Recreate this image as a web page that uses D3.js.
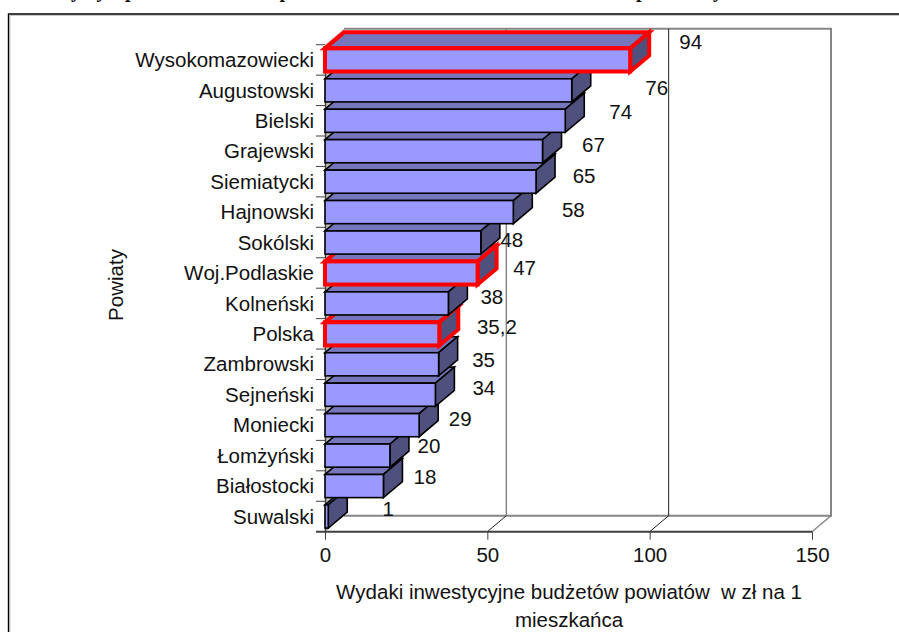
<!DOCTYPE html>
<html>

<head>
    <title>Wydatki inwestycyjne powiatów</title>
    <script src='https://cdn.jsdelivr.net/npm/d3@7'></script>
    <style type='text/css'>
        html,
        body {
            margin: 0;
            padding: 0;
            overflow: hidden;
            background: #fff;
        }

        svg {
            display: block;
        }

        text {
            font-family: 'Liberation Sans', Arial, sans-serif;
            font-size: 20.5px;
            font-kerning: none;
            fill: #111;
        }

        .title-bit {
            font-family: 'Liberation Serif', serif;
            font-weight: bold;
            font-size: 20px;
        }
    </style>
</head>

<body>
    <script>
        // Values, top bar first:
        const powiaty = ['Wysokomazowiecki', 'Augustowski', 'Bielski', 'Grajewski', 'Siemiatycki', 'Hajnowski',
            'Sokólski', 'Woj.Podlaskie', 'Kolneński', 'Polska', 'Zambrowski', 'Sejneński', 'Moniecki',
            'Łomżyński', 'Białostocki', 'Suwalski'];
        const wydatki = [94, 76, 74, 67, 65, 58, 48, 47, 38, 35.2, 35, 34, 29, 20, 18, 1];
        const wartosci = ['94', '76', '74', '67', '65', '58', '48', '47', '38', '35,2', '35', '34', '29', '20', '18', '1'];
        const wyroznione = ['Wysokomazowiecki', 'Woj.Podlaskie', 'Polska'];
        const xTicks = [0, 50, 100, 150];

        // The value labels were dragged by hand in the original, so each has its own nudge from the bar end:
        const labelDx = [60.5, 85, 55.5, 51, 48, 60, 31, 47, 43.5, 57.6, 45, 48.5, 41, 39, 41.5, 60];
        const labelDy = [-18, -3, -9, -7, -6, -3, -3.5, -5, -7, -7, -5, -7, -7, -10, -10, -7.5];

        // Bits of the cut off title, only the descenders are on the page:
        const titleBits = [['y', 76], ['y', 101.5], ['p', 130.5], ['p', 285], ['p', 641.5], ['y', 718]];

        const svg = d3.select('body').append('svg').attr('width', 899).attr('height', 632);

        // page frame (only top and left are inside the picture):
        svg.append('path').attr('d', 'M10,632V15.5H899').attr('fill', 'none').attr('stroke', '#c8c8c8').attr('stroke-width', 1);
        svg.append('path').attr('d', 'M8.5,632V14H899').attr('fill', 'none').attr('stroke', '#000').attr('stroke-width', 1.4);

        svg.append('g').selectAll('text')
            .data(titleBits)
            .join('text')
            .attr('class', 'title-bit')
            .attr('text-anchor', 'middle')
            .attr('x', d => d[1])
            .attr('y', -2.6)
            .text(d => d[0]);

        // scales:
        const x = d3.scaleLinear().domain([0, 150]).range([325, 812]);
        const y = d3.scaleBand().domain(powiaty).range([44.7, 531.7]).paddingInner(0.24).paddingOuter(0.12);
        const depthX = 19, depthY = -16;
        const top0 = y.range()[0], bottom0 = y.range()[1];

        // walls:
        const wallColor = '#868686';
        svg.append('path')
            .attr('d', `M${x(0)},${top0}L${x(0) + depthX},${top0 + depthY}V${bottom0 + depthY}L${x(0)},${bottom0}Z`)
            .attr('fill', '#bdbdbd');
        svg.append('path')
            .attr('d', `M${x(0) + depthX},${top0 + depthY}H${x(150) + depthX}V${bottom0 + depthY}H${x(0) + depthX}`)
            .attr('fill', '#fff')
            .attr('stroke', wallColor)
            .attr('stroke-width', 2);

        // gridlines on back wall and floor, 50 is gray and 100 is black in the original:
        const grid = svg.append('g').attr('fill', 'none');
        grid.append('path')
            .attr('d', `M${x(50) + depthX},${top0 + depthY}V${bottom0 + depthY}`)
            .attr('stroke', wallColor).attr('stroke-width', 1.5);
        grid.append('path')
            .attr('d', `M${x(100) + depthX},${top0 + depthY}V${bottom0 + depthY}`)
            .attr('stroke', '#222').attr('stroke-width', 1);
        grid.selectAll('.floor')
            .data([50, 100])
            .join('path')
            .attr('class', 'floor')
            .attr('d', d => `M${x(d)},${bottom0}l${depthX},${depthY}`)
            .attr('stroke', '#222').attr('stroke-width', 1);
        grid.append('path')
            .attr('d', `M${x(150)},${bottom0}l${depthX},${depthY}`)
            .attr('stroke', wallColor).attr('stroke-width', 1.5);

        // axes:
        const xAxis = svg.append('g')
            .attr('transform', `translate(0,${bottom0})`)
            .call(d3.axisBottom(x).tickValues(xTicks).tickSize(8).tickPadding(8).tickSizeOuter(0));
        xAxis.select('.domain').attr('stroke', '#404040').attr('stroke-width', 2)
            .attr('d', `M${x(0) - 9},0H${x(150)}`);
        xAxis.selectAll('line').attr('stroke', '#404040').attr('stroke-width', 1);
        xAxis.attr('font-size', null).attr('font-family', null);

        const yAxis = svg.append('g')
            .attr('transform', `translate(${x(0)},0.6)`)
            .call(d3.axisLeft(y).tickSize(0).tickPadding(11));
        yAxis.attr('font-size', null).attr('font-family', null);
        yAxis.select('.domain').attr('stroke', '#404040').attr('stroke-width', 1.4);

        // axis ticks sit between the categories, not on them:
        svg.append('g').selectAll('line')
            .data(powiaty)
            .join('line')
            .attr('x1', x(0) - 9)
            .attr('x2', x(0))
            .attr('y1', d => y(d) - y.step() * y.paddingOuter())
            .attr('y2', d => y(d) - y.step() * y.paddingOuter())
            .attr('stroke', '#404040')
            .attr('stroke-width', 1);

        // Bars, bottom one first so the upper bars sit over the lower ones:
        const rows = powiaty.map((p, i) => ({ p, v: wydatki[i], label: wartosci[i], dx: labelDx[i], dy: labelDy[i] }));
        const isRed = (d) => wyroznione.includes(d.p);
        const barStroke = (d) => isRed(d) ? '#ff0000' : '#000';
        const barStrokeWidth = (d) => isRed(d) ? 4 : 1.6;

        const bar = svg.append('g')
            .selectAll('g')
            .data(rows.slice().reverse())
            .join('g')
            .attr('stroke', barStroke)
            .attr('stroke-width', barStrokeWidth)
            .attr('stroke-linejoin', 'miter');

        bar.append('path')      // top face
            .attr('fill', '#7676bc')
            .attr('d', d => `M${x(0)},${y(d.p)}l${depthX},${depthY}H${x(d.v) + depthX}l${-depthX},${-depthY}Z`);
        bar.append('path')      // side face
            .attr('fill', '#50507f')
            .attr('d', d => `M${x(d.v)},${y(d.p)}l${depthX},${depthY}v${y.bandwidth()}l${-depthX},${-depthY}Z`);
        bar.append('rect')      // front face
            .attr('fill', '#9999ff')
            .attr('x', x(0))
            .attr('y', d => y(d.p))
            .attr('width', d => x(d.v) - x(0))
            .attr('height', y.bandwidth());

        // value labels:
        svg.append('g').selectAll('text')
            .data(rows)
            .join('text')
            .attr('text-anchor', 'middle')
            .attr('dominant-baseline', 'central')
            .attr('x', d => x(d.v) + d.dx)
            .attr('y', d => y(d.p) + y.bandwidth() / 2 + d.dy)
            .text(d => d.label);

        // axis titles:
        svg.append('text')
            .attr('text-anchor', 'middle')
            .attr('x', 569)
            .attr('y', 599)
            .style('white-space', 'pre')
            .text('Wydaki inwestycyjne budżetów powiatów  w zł na 1');
        svg.append('text')
            .attr('text-anchor', 'middle')
            .attr('x', 569)
            .attr('y', 627)
            .text('mieszkańca');
        svg.append('text')
            .attr('text-anchor', 'middle')
            .attr('transform', 'translate(123,285) rotate(-90)')
            .text('Powiaty');
    </script>
</body>

</html>
